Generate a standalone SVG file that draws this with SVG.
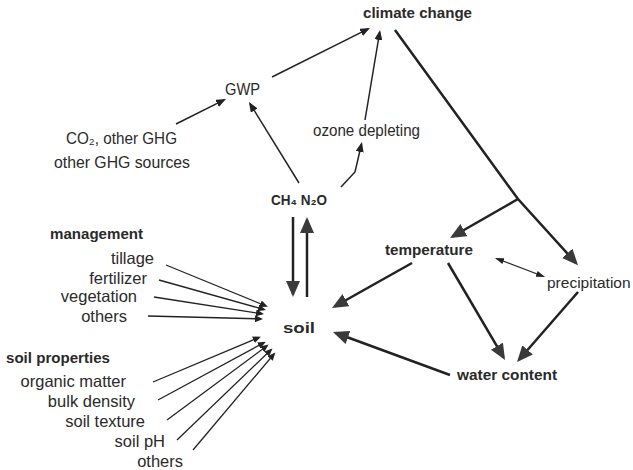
<svg xmlns="http://www.w3.org/2000/svg" width="633" height="470" viewBox="0 0 633 470">
<style>
text{font-family:"Liberation Sans",Arial,sans-serif;fill:#2a2a2a}
.r{font-size:16.5px}
.b{font-size:15px;font-weight:bold}
.thick{stroke:#222;stroke-width:2.5;fill:none;marker-end:url(#big)}
.thin{stroke:#222;stroke-width:1.5;fill:none;marker-end:url(#small)}
.fan{stroke:#222;stroke-width:1.3;fill:none;marker-end:url(#tiny)}
.dbl{stroke:#222;stroke-width:1.2;fill:none;marker-end:url(#twin);marker-start:url(#twin)}
</style>
<defs>
<marker id="big" markerUnits="userSpaceOnUse" markerWidth="17" markerHeight="14" viewBox="0 0 17 14" refX="13" refY="7" orient="auto"><path d="M0,0 L16,7 L0,14 z" fill="#3a3a3a"/></marker>
<marker id="small" markerUnits="userSpaceOnUse" markerWidth="11" markerHeight="8" viewBox="0 0 11 8" refX="8" refY="4" orient="auto"><path d="M0,0 L10,4 L0,8 z" fill="#222"/></marker>
<marker id="tiny" markerUnits="userSpaceOnUse" markerWidth="9" markerHeight="7" viewBox="0 0 9 7" refX="6" refY="3.5" orient="auto"><path d="M0,0 L8,3.5 L0,7 z" fill="#222"/></marker>
<marker id="twin" markerUnits="userSpaceOnUse" markerWidth="10" markerHeight="6" viewBox="0 0 10 6" refX="7" refY="3" orient="auto-start-reverse"><path d="M0,0 L9,3 L0,6 z" fill="#222"/></marker>
</defs>

<g id="connectors">
<line class="thin" x1="272" y1="77" x2="368.2" y2="28.9"/>
<line class="thin" x1="365" y1="120" x2="379.7" y2="32"/>
<line class="thin" x1="176" y1="124" x2="224.2" y2="99.9"/>
<line class="thin" x1="299" y1="183" x2="250" y2="103.7"/>
<polyline class="thin" points="341,187 355,172 361.5,144"/>
<polyline class="thick" points="395,30 518,199 576,263"/>
<line class="thick" x1="518" y1="199" x2="452.6" y2="236.5"/>
<line class="thick" x1="412" y1="263" x2="334.6" y2="306.5"/>
<line class="thick" x1="448" y1="263" x2="503.5" y2="357.4"/>
<line class="thick" x1="578" y1="292" x2="519" y2="359.7"/>
<line class="thick" x1="450" y1="375" x2="335.8" y2="333"/>
<line class="thick" x1="293" y1="217" x2="293" y2="294"/>
<line class="thick" x1="307" y1="297" x2="307" y2="220"/>
<line class="dbl" x1="496.9" y1="258.7" x2="543.1" y2="276.3"/>
<line class="fan" x1="166" y1="265" x2="266" y2="306"/>
<line class="fan" x1="159" y1="280" x2="264" y2="309.5"/>
<line class="fan" x1="154" y1="297" x2="262" y2="313.8"/>
<line class="fan" x1="148" y1="316" x2="261" y2="318.9"/>
<line class="fan" x1="153" y1="382" x2="259" y2="337.5"/>
<line class="fan" x1="158" y1="400" x2="264" y2="342.6"/>
<line class="fan" x1="167" y1="420" x2="267" y2="345.8"/>
<line class="fan" x1="177" y1="440" x2="271" y2="349.8"/>
<line class="fan" x1="193" y1="450" x2="274" y2="354"/>
</g>

<g id="climate-change"><text class="b" x="363" y="18" textLength="109" lengthAdjust="spacingAndGlyphs">climate change</text></g>
<g id="gwp"><text class="r" x="225" y="95" font-size="17" textLength="35" lengthAdjust="spacingAndGlyphs">GWP</text></g>
<g id="co2"><text class="r" x="66" y="144" textLength="111" lengthAdjust="spacingAndGlyphs">CO₂, other GHG</text>
<text class="r" x="54" y="168" textLength="136" lengthAdjust="spacingAndGlyphs">other GHG  sources</text></g>
<g id="ozone"><text class="r" x="313" y="136" textLength="107" lengthAdjust="spacingAndGlyphs">ozone depleting</text></g>
<g id="ch4n2o"><text class="b" x="271" y="205" font-size="15.5" textLength="56" lengthAdjust="spacingAndGlyphs">CH₄ N₂O</text></g>
<g id="soil"><text class="b" x="283" y="333" font-size="19" textLength="32" lengthAdjust="spacingAndGlyphs">soil</text></g>
<g id="management">
<text class="b" x="50" y="239" textLength="93" lengthAdjust="spacingAndGlyphs">management</text>
<text class="r" x="154" y="264" text-anchor="end">tillage</text>
<text class="r" x="147" y="284" text-anchor="end">fertilizer</text>
<text class="r" x="137" y="302" text-anchor="end">vegetation</text>
<text class="r" x="127" y="322" text-anchor="end">others</text>
</g>
<g id="soil-properties">
<text class="b" x="6" y="363" textLength="104" lengthAdjust="spacingAndGlyphs">soil properties</text>
<text class="r" x="126" y="387" text-anchor="end">organic matter</text>
<text class="r" x="135" y="407" text-anchor="end">bulk density</text>
<text class="r" x="145" y="427" text-anchor="end">soil texture</text>
<text class="r" x="165" y="447" text-anchor="end">soil pH</text>
<text class="r" x="183" y="467" text-anchor="end">others</text>
</g>
<g id="temperature"><text class="b" x="385" y="255" textLength="88" lengthAdjust="spacingAndGlyphs">temperature</text></g>
<g id="precipitation"><text x="547" y="288" font-size="15.5">precipitation</text></g>
<g id="water-content"><text class="b" x="457" y="380" textLength="100" lengthAdjust="spacingAndGlyphs">water content</text></g>
</svg>
